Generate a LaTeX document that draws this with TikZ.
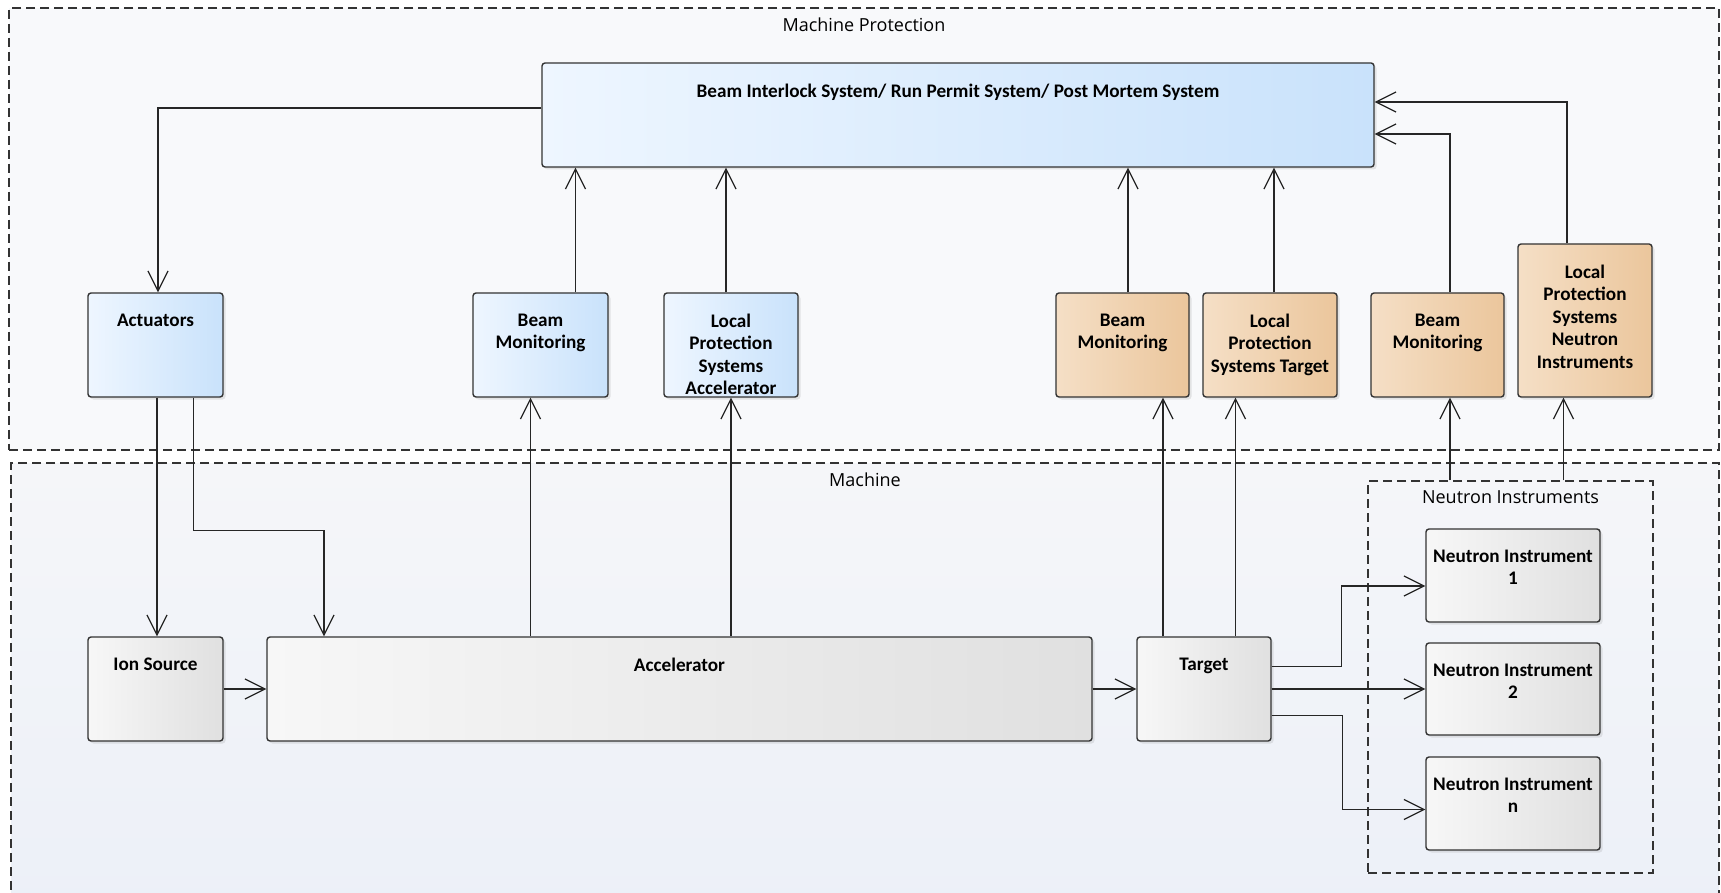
\documentclass[tikz,border=0pt]{standalone}
\usepackage{fontspec}
\setmainfont{Carlito}
\newfontfamily\framefont{Open Sans}
\usetikzlibrary{arrows.meta,shadows}

\definecolor{bluel}{HTML}{EEF6FF}
\definecolor{bluer}{HTML}{C9E2FB}
\definecolor{orangel}{HTML}{F5DFC6}
\definecolor{oranger}{HTML}{EBC69C}
\definecolor{greyl}{HTML}{F7F7F7}
\definecolor{greyr}{HTML}{E0E0E0}
\definecolor{mpfill}{HTML}{F8F9FB}
\definecolor{mctop}{HTML}{F5F6F9}
\definecolor{mcbot}{HTML}{ECF0F8}

\tikzset{
  blk/.style 2 args={draw=black!80, line width=1.4pt, rounded corners=3pt,
    minimum width=#1, minimum height=#2, inner sep=0pt,
    drop shadow={shadow xshift=2.5pt, shadow yshift=-2.5pt, opacity=.18}},
  bluebox/.style={left color=bluel, right color=bluer},
  orangebox/.style={left color=orangel, right color=oranger},
  greybox/.style={left color=greyl, right color=greyr},
  txt/.style={anchor=north, inner sep=0pt, yshift=-21.5pt, align=center,
    font=\fontsize{19.2}{22.5}\selectfont\bfseries},
  frm/.style={draw=black!80, line width=1.2pt, dash pattern=on 9pt off 5pt,
    inner sep=0pt},
  ftxt/.style={anchor=north, inner sep=0pt, yshift=-10pt,
    font=\framefont\fontsize{18}{21}\selectfont},
  conn/.style={draw=black!85, line width=1.2pt, ->}
}

\begin{document}
\begin{tikzpicture}[x=1pt, y=-1pt, >={Straight Barb[length=20pt,width=20pt]}]
\useasboundingbox[fill=white] (0,0) rectangle (1721,893);

% frames
\node[frm, fill=mpfill, minimum width=1710, minimum height=442,
  label={[ftxt]north:Machine Protection}] (mp) at (864,229) {};
\node[frm, top color=mctop, bottom color=mcbot, minimum width=1708, minimum height=450,
  label={[ftxt]north:Machine}] (mc) at (865,688) {};
\node[frm, minimum width=285, minimum height=392,
  label={[ftxt]north:Neutron Instruments}] (nif) at (1510.5,677) {};

% protection layer
\node[blk={832}{104}, bluebox,
  label={[txt]north:Beam Interlock System/ Run Permit System/ Post Mortem System}] (bis) at (958,115) {};
\node[blk={135}{104}, bluebox, label={[txt]north:Actuators}] (act) at (155.5,345) {};
\node[blk={135}{104}, bluebox, label={[txt]north:{Beam\\Monitoring}}] (bma) at (540.5,345) {};
\node[blk={134}{104}, bluebox, label={[txt]north:{Local\\Protection\\Systems\\Accelerator}}] (lpa) at (731,345) {};
\node[blk={133}{104}, orangebox, label={[txt]north:{Beam\\Monitoring}}] (bmt) at (1122.5,345) {};
\node[blk={134}{104}, orangebox, label={[txt]north:{Local\\Protection\\Systems Target}}] (lpt) at (1270,345) {};
\node[blk={133}{104}, orangebox, label={[txt]north:{Beam\\Monitoring}}] (bmn) at (1437.5,345) {};
\node[blk={134}{153}, orangebox, label={[txt]north:{Local\\Protection\\Systems\\Neutron\\Instruments}}] (lpn) at (1585,320.5) {};

% machine layer
\node[blk={135}{104}, greybox, label={[txt]north:Ion Source}] (ion) at (155.5,689) {};
\node[blk={825}{104}, greybox, label={[txt]north:Accelerator}] (acc) at (679.5,689) {};
\node[blk={134}{104}, greybox, label={[txt]north:Target}] (tgt) at (1204,689) {};
\node[blk={174}{93}, greybox, label={[txt]north:{Neutron Instrument\\1}}] (ni1) at (1513,575.5) {};
\node[blk={174}{92}, greybox, label={[txt]north:{Neutron Instrument\\2}}] (ni2) at (1513,689) {};
\node[blk={174}{93}, greybox, label={[txt]north:{Neutron Instrument\\n}}] (nin) at (1513,803.5) {};

% connectors
\draw[conn] ([yshift=7pt]bis.west) -| ([xshift=2.5pt]act.north);
\draw[conn] ([xshift=1.5pt]act.south) -- ([xshift=1.5pt]ion.north);
\draw[conn] ([xshift=38pt]act.south) -- ++(0,133) -| ([xshift=-355.5pt]acc.north);
\draw[conn] (ion) -- (acc);
\draw[conn] (acc) -- (tgt);
\draw[conn] ([xshift=-10pt]bma.south |- acc.north) -- ([xshift=-10pt]bma.south);
\draw[conn] (lpa.south |- acc.north) -- (lpa.south);
\draw[conn] ([xshift=35pt]bma.north) -- ([xshift=35pt]bma.north |- bis.south);
\draw[conn] ([xshift=-5pt]lpa.north) -- ([xshift=-5pt]lpa.north |- bis.south);
\draw[conn] ([xshift=5.5pt]bmt.north) -- ([xshift=5.5pt]bmt.north |- bis.south);
\draw[conn] ([xshift=4pt]lpt.north) -- ([xshift=4pt]lpt.north |- bis.south);
\draw[conn] ([xshift=12.5pt]bmn.north) |- ([yshift=-19pt]bis.east);
\draw[conn] ([xshift=-18pt]lpn.north) |- ([yshift=13pt]bis.east);
\draw[conn] ([xshift=-41pt]tgt.north) -- ([xshift=-41pt]tgt.north |- bmt.south);
\draw[conn] ([xshift=31.5pt]tgt.north) -- ([xshift=31.5pt]tgt.north |- lpt.south);
\draw[conn] ([xshift=12.5pt]bmn.south |- nif.north) -- ([xshift=12.5pt]bmn.south);
\draw[conn] ([xshift=-21.5pt]lpn.south |- nif.north) -- ([xshift=-21.5pt]lpn.south);
\draw[conn] ([yshift=22.5pt]tgt.east) -- ++(70,0) |- ([yshift=-10.5pt]ni1.west);
\draw[conn] (tgt) -- (ni2);
\draw[conn] ([yshift=-26.5pt]tgt.east) -- ++(71,0) |- ([yshift=-6pt]nin.west);
\end{tikzpicture}
\end{document}
